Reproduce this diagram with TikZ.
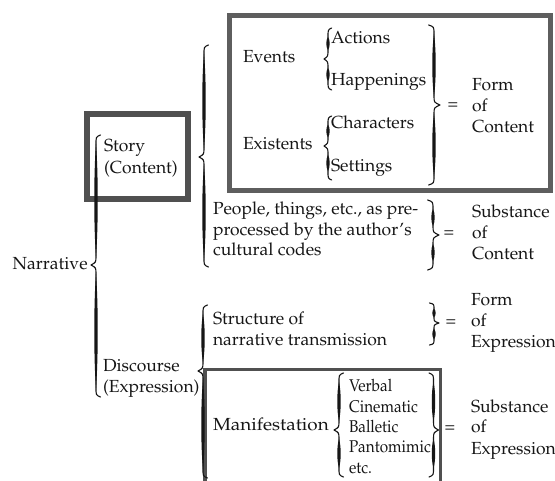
\documentclass[tikz,border=0pt]{standalone}
\usepackage[T1]{fontenc}
\renewcommand{\rmdefault}{ppl}
\definecolor{ink}{HTML}{161616}
\definecolor{boxdark}{HTML}{505050}
\definecolor{boxmid}{HTML}{5E5E5E}
\newcommand\Brc[6]{%
 \pgfmathsetmacro\BrX{#2}%
 \pgfmathsetmacro\BrT{#3}%
 \pgfmathsetmacro\BrM{#4}%
 \pgfmathsetmacro\BrB{#5}%
 \pgfmathsetmacro\BrK{min(9,(#4-#3)/3.5,(#5-#4)/3.5)}%
 \pgfmathsetmacro\BrC{#2+(#1)*0.9*#6}%
 \pgfmathsetmacro\BrP{#2-(#1)*#6}%
 \pgfmathsetmacro\BrUa{#3+\BrK}%
 \pgfmathsetmacro\BrUb{#4-\BrK}%
 \pgfmathsetmacro\BrLa{#4+\BrK}%
 \pgfmathsetmacro\BrLb{#5-\BrK}%
 \pgfmathsetmacro\BrQu{0.25*(\BrUb-\BrUa)}%
 \pgfmathsetmacro\BrQl{0.25*(\BrLb-\BrLa)}%
 \draw[bracethin] (\BrC,\BrT) .. controls (\BrX,{\BrT+0.2*\BrK}) .. (\BrX,\BrUa)
   -- (\BrX,\BrUb) .. controls (\BrX,{\BrM-0.3*\BrK}) .. (\BrP,\BrM)
   .. controls (\BrX,{\BrM+0.3*\BrK}) .. (\BrX,\BrLa)
   -- (\BrX,\BrLb) .. controls (\BrX,{\BrB-0.2*\BrK}) .. (\BrC,\BrB);
 \fill[bracethick] (\BrX,\BrUa) .. controls ({\BrX-2.3},{\BrUa+\BrQu}) and ({\BrX-2.3},{\BrUb-\BrQu}) .. (\BrX,\BrUb)
   .. controls ({\BrX+2.3},{\BrUb-\BrQu}) and ({\BrX+2.3},{\BrUa+\BrQu}) .. cycle;
 \fill[bracethick] (\BrX,\BrLa) .. controls ({\BrX-2.3},{\BrLa+\BrQl}) and ({\BrX-2.3},{\BrLb-\BrQl}) .. (\BrX,\BrLb)
   .. controls ({\BrX+2.3},{\BrLb-\BrQl}) and ({\BrX+2.3},{\BrLa+\BrQl}) .. cycle;
}
\begin{document}
\begin{tikzpicture}[x=1pt,y=-1pt,
  txt/.style={inner sep=0pt, outer sep=0pt, anchor=base west, align=left,
    font=\fontsize{17.5}{21}\selectfont, text=ink},
  eqsign/.style={inner sep=0pt, outer sep=0pt, anchor=center,
    font=\fontsize{17.5}{21}\selectfont, text=ink},
  bracethin/.style={draw=ink, line width=1.1pt, line cap=round, line join=round},
  bracethick/.style={fill=ink},
  storyframe/.style={draw=boxdark, line width=6pt},
  formframe/.style={draw=boxmid, line width=4.5pt},
  manifframe/.style={draw=boxdark, line width=3.5pt}]
\useasboundingbox (0,0) rectangle (555,481);
\fill[white] (0,0) rectangle (555,481);
\clip (0,0) rectangle (555,481);

% frames
\draw[storyframe] (87,114) rectangle (188,199.5);
\draw[formframe] (229.5,15.5) rectangle (550.5,190.5);
\draw[manifframe] (205,369.5) rectangle (440.5,495);

% texts (base anchor = baseline of the last line)
\node[txt] (narr) at (12.7,270) {Narrative};
\node[txt, font=\fontsize{17.5}{22}\selectfont] (story) at (104,174) {Story\\(Content)};
\node[txt] (events) at (243,63) {Events};
\node[txt] (exist) at (243,150) {Existents};
\node[txt] (actions) at (331,43.5) {Actions};
\node[txt] (happ) at (331,86) {Happenings};
\node[txt] (chars) at (331,129) {Characters};
\node[txt] (sett) at (331,171.5) {Settings};
\node[eqsign] (eq1) at (453,106) {=};
\node[txt] (form1) at (472,133) {Form\\of\\Content};
\node[txt, font=\fontsize{17.5}{20.5}\selectfont] (people) at (213,256) {People, things, etc., as pre-\\processed by the author's\\cultural codes};
\node[eqsign] (eq2) at (449,234) {=};
\node[txt] (subst1) at (472,260) {Substance\\of\\Content};
\node[txt] (struct) at (213,345.5) {Structure of\\narrative transmission};
\node[eqsign] (eq3) at (451,323) {=};
\node[txt] (form2) at (471,348) {Form\\of\\Expression};
\node[txt] (disc) at (103,393) {Discourse\\(Expression)};
\node[txt, xscale=1.08] (manif) at (213,431) {Manifestation};
\node[txt, xscale=0.9, font=\fontsize{17}{20.3}\selectfont] (media) at (349,473) {Verbal\\Cinematic\\Balletic\\Pantomimic\\etc.};
\node[eqsign] (eq4) at (450,429) {=};
\node[txt] (subst2) at (471,454) {Substance\\of\\Expression};

% braces: sign (1 = left brace, -1 = right brace), spine x, top, tip, bottom, depth
\Brc{1}{96}{135}{265}{397}{5}
\Brc{1}{204}{45}{157}{267}{5}
\Brc{1}{328}{28}{59}{90}{4}
\Brc{1}{328}{116}{146}{180}{4}
\Brc{-1}{434}{25}{105}{185}{6}
\Brc{-1}{433}{200}{235}{270}{6}
\Brc{1}{203}{305}{371}{478}{5}
\Brc{-1}{434}{303}{323}{345}{5}
\Brc{1}{339}{373}{430}{477}{5}
\Brc{-1}{433.5}{373}{430}{477}{5}
\end{tikzpicture}
\end{document}
